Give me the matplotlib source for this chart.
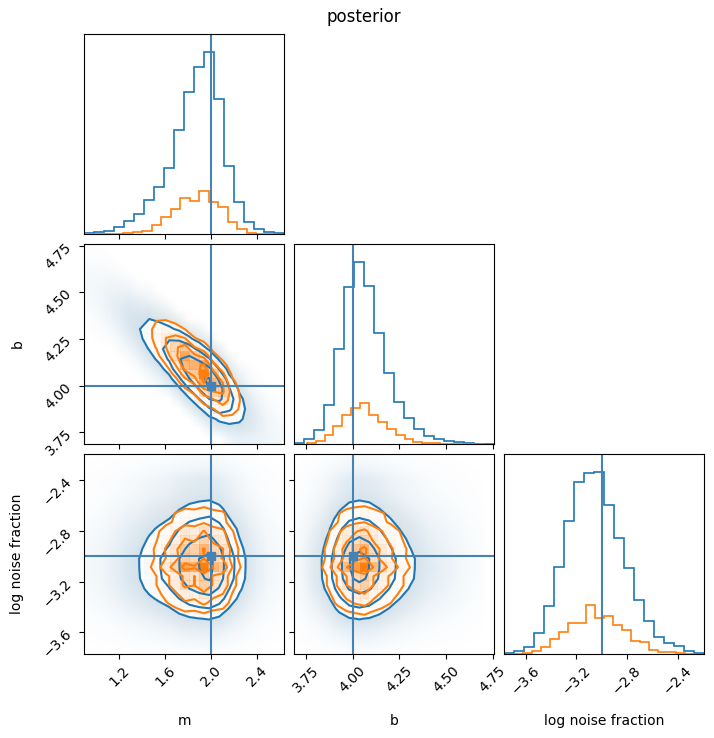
import numpy as np
import matplotlib.pyplot as plt
from matplotlib.colors import LinearSegmentedColormap, to_rgb

labels = ["m", "b", "log noise fraction"]
truths = [2.0, 4.0, -3.0]
ticks = [[1.2, 1.6, 2.0, 2.4],
         [3.75, 4.0, 4.25, 4.5, 4.75],
         [-3.6, -3.2, -2.8, -2.4]]

# first run (blue): 20-bin histograms over its own ranges
blue_ranges = [(0.898, 2.635), (3.6875, 4.759), (-3.768, -2.19)]
blue_m = [3, 5, 10, 20, 40, 59, 101, 142, 197, 311, 425, 500, 545, 404, 204, 95, 37, 14, 5, 2]
blue_b = [3, 14, 41, 116, 284, 471, 545, 475, 333, 212, 126, 77, 45, 25, 15, 10, 5, 2, 1, 0]
blue_f = [1, 8, 21, 62, 143, 260, 398, 515, 541, 544, 445, 345, 255, 161, 97, 51, 33, 23, 8, 2]

# second run (orange)
orange_ranges = [(0.908, 2.554), (3.754, 4.707), (-3.689, -2.269)]
orange_m = [0, 0, 1, 1, 3, 7, 10, 27, 50, 74, 107, 99, 128, 95, 82, 36, 14, 4, 1, 0]
orange_b = [3, 10, 27, 55, 88, 108, 123, 88, 65, 45, 28, 15, 7, 2, 2, 1, 0, 0, 0, 0]
orange_f = [0, 2, 7, 21, 45, 64, 91, 91, 147, 107, 112, 87, 72, 38, 34, 12, 6, 4, 3, 0]

# m and b are correlated: b at m = 2 along the ridge, and its slope
mb_slope = -0.5
blue_mb_b0 = 4.005
orange_mb_b0 = 4.035
# spread of b around the ridge
resid_db = [-0.25, -0.2, -0.15, -0.1, -0.05, 0.0, 0.05, 0.1, 0.15, 0.2, 0.25]
resid_n = [1, 4, 17, 46, 82, 100, 82, 46, 17, 4, 1]

# how strong the cloud of samples shows through
cloud_alpha = {"C0": 0.65, "C1": 0.1}

truth_color = "#4682b4"
levels = 1.0 - np.exp(-0.5 * np.arange(0.5, 2.1, 0.5) ** 2)


def edges(r, n=20):
    return np.linspace(r[0], r[1], n + 1)


def centers(r, n=20):
    e = edges(r, n)
    return 0.5 * (e[1:] + e[:-1])


def joint(hists, ranges, b0, i, j):
    """2d counts, param i on x, param j on y"""
    hx = np.asarray(hists[i], float)
    hy = np.asarray(hists[j], float)
    if (i, j) == (0, 1):
        xm = centers(ranges[0])
        yb = centers(ranges[1])
        ridge = b0 + mb_slope * (xm - truths[0])
        w = np.interp(yb[None, :] - ridge[:, None], resid_db, resid_n, left=0, right=0)
        w /= np.maximum(w.sum(axis=1, keepdims=True), 1e-12)
        return hx[:, None] * w
    return np.outer(hx, hy) / hx.sum()


def sigma_levels(H):
    flat = np.sort(H.ravel())[::-1]
    cum = np.cumsum(flat) / flat.sum()
    V = np.array([flat[cum <= v][-1] if np.any(cum <= v) else flat[0] for v in levels])
    V.sort()
    m = np.diff(V) == 0
    while np.any(m):
        V[np.where(m)[0][0]] *= 1.0 - 1e-4
        m = np.diff(V) == 0
    V.sort()
    return V


def fill_2d(ax, H, rx, ry, color):
    xc, yc = centers(rx), centers(ry)
    # faint cloud where the samples sit
    rgba = np.zeros((H.shape[1], H.shape[0], 4))
    rgba[..., :3] = to_rgb(color)
    rgba[..., 3] = np.clip(cloud_alpha[color] * np.sqrt(H.T / H.max()), 0, 0.32)
    ax.imshow(rgba, extent=(rx[0], rx[1], ry[0], ry[1]), origin="lower",
              aspect="auto", interpolation="bilinear", zorder=-1)
    V = sigma_levels(H)
    ax.contourf(xc, yc, H.T, [V.min(), H.max() * 1.01], colors="white",
                antialiased=False, zorder=1)
    dens = LinearSegmentedColormap.from_list("dens", [color, (1, 1, 1, 0)])
    ax.pcolor(edges(rx), edges(ry), H.max() - H.T, cmap=dens, zorder=1)
    return xc, yc, V


blue_hists = [blue_m, blue_b, blue_f]
orange_hists = [orange_m, orange_b, orange_f]

W, Hfig = 714, 738
fig = plt.figure(figsize=(W / 100, Hfig / 100), dpi=100)
lefts = [84.3, 294.3, 504.3]
tops = [34.0, 244.0, 453.7]

for r in range(3):
    for c in range(r + 1):
        ax = fig.add_axes([lefts[c] / W, (Hfig - tops[r] - 200) / Hfig, 200 / W, 200 / Hfig])
        if r == c:
            ax.stairs(blue_hists[c], edges(blue_ranges[c]), color="C0", lw=1.2)
            ax.stairs(orange_hists[c], edges(orange_ranges[c]), color="C1", lw=1.2)
            ax.axvline(truths[c], color=truth_color)
            ax.set_ylim(0, 1.1 * max(blue_hists[c]))
            ax.set_yticks([])
        else:
            Hb = joint(blue_hists, blue_ranges, blue_mb_b0, c, r)
            Ho = joint(orange_hists, orange_ranges, orange_mb_b0, c, r)
            lines = []
            for H, rng, col in [(Hb, blue_ranges, "C0"), (Ho, orange_ranges, "C1")]:
                xc, yc, V = fill_2d(ax, H, rng[c], rng[r], col)
                lines.append((xc, yc, H, V, col))
            for xc, yc, H, V, col in lines:
                ax.contour(xc, yc, H.T, V, colors=col, linewidths=1.5, zorder=2)
            ax.axvline(truths[c], color=truth_color)
            ax.axhline(truths[r], color=truth_color)
            ax.plot(truths[c], truths[r], "s", color=truth_color)
            ax.set_ylim(blue_ranges[r])
            ax.set_yticks(ticks[r])
            if c == 0:
                ax.tick_params(axis="y", labelrotation=45)
                ax.set_ylabel(labels[r], fontsize=10)
                ax.yaxis.set_label_coords(-0.3, 0.5)
            else:
                ax.tick_params(labelleft=False)
        ax.set_xlim(blue_ranges[c])
        ax.set_xticks(ticks[c])
        if r == 2:
            ax.tick_params(axis="x", labelrotation=45)
            ax.set_xlabel(labels[c], fontsize=10)
            ax.xaxis.set_label_coords(0.5, -0.3)
        else:
            ax.tick_params(labelbottom=False)

fig.text(364 / W, 1 - 17 / Hfig, "posterior", ha="center", va="center", fontsize=12)
fig.savefig("out.png", dpi=100)
